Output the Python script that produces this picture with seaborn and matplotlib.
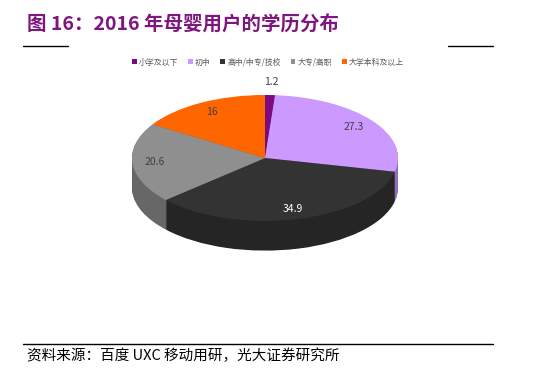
import matplotlib
matplotlib.use('Agg')
import matplotlib.pyplot as plt
import matplotlib.colors as mcolors
import seaborn as sns

# data
categories = ['小学及以下', '初中', '高中/中专/技校', '大专/高职', '大学本科及以上']
values = [1.2, 27.3, 34.9, 20.6, 16]
colors = ['#7B0A7E', '#CC99FF', '#333333', '#8F8F8F', '#FF6600']
label_colors = ['#404040', '#404040', 'white', '#404040', '#404040']

sns.set_theme(style='white')
plt.rcParams['font.family'] = ['Noto Sans CJK SC', 'DejaVu Sans']

fig = plt.figure(figsize=(5.37, 3.85), dpi=100)
fig.patch.set_facecolor('white')

# pie axes (squashed to fake perspective)
ax = fig.add_axes([115 / 537, (385 - 272) / 385, 300 / 537, 192 / 385])
depth = 0.47
n_layers = 40
side_colors = [tuple(c * 0.72 for c in mcolors.to_rgb(col)) for col in colors]
for k in range(n_layers, 0, -1):
    ax.pie(values, colors=side_colors, startangle=90, counterclock=False,
           center=(0, -depth * k / n_layers), radius=1,
           wedgeprops=dict(linewidth=0))
wedges, texts = ax.pie(values, colors=colors, startangle=90, counterclock=False,
                       labels=[f'{v:g}' for v in values], labeldistance=0.83,
                       wedgeprops=dict(linewidth=0),
                       textprops=dict(fontsize=7.5, ha='center', va='center'))
for t, c in zip(texts, label_colors):
    t.set_color(c)
    t.set_ha('center')
# smallest slice label sits just outside the rim
x0, y0 = texts[0].get_position()
texts[0].set_position((x0 * 1.45, y0 * 1.45))

ax.set_aspect('auto')
ax.set_xlim(-150 / 133, 150 / 133)
ax.set_ylim(-114 / 63, 78 / 63)
ax.axis('off')

# legend
fig.legend(wedges, categories, loc='center', bbox_to_anchor=(268 / 537, 1 - 62 / 385),
           ncol=5, frameon=False, fontsize=5.7, handlelength=0.6, handleheight=0.6,
           handletextpad=0.3, columnspacing=1.2, labelcolor='#595959')

# title and rules
fig.text(27 / 537, 1 - 25 / 385, '图 16：2016 年母婴用户的学历分布', fontsize=14,
         fontweight='heavy', color='#7F1680', ha='left', va='center')
fig.add_artist(plt.Line2D([23 / 537, 68 / 537], [1 - 46 / 385] * 2, color='black', lw=1))
fig.add_artist(plt.Line2D([448 / 537, 493 / 537], [1 - 46 / 385] * 2, color='black', lw=1))
fig.add_artist(plt.Line2D([23 / 537, 493 / 537], [1 - 344 / 385] * 2, color='black', lw=1))
fig.text(27 / 537, 1 - 356 / 385, '资料来源：百度 UXC 移动用研，光大证券研究所', fontsize=10.5,
         color='black', ha='left', va='center')

fig.savefig('out.png', dpi=100)
